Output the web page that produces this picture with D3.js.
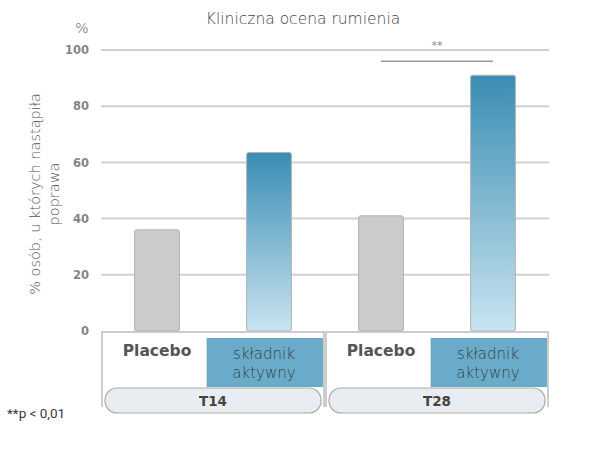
<!DOCTYPE html>
<html>
<head>
<meta charset="utf-8">
<script src="https://cdn.jsdelivr.net/npm/d3@7"></script>
<style>
  body { margin: 0; background: #fff; }
  svg { display: block; }
</style>
</head>
<body>
<div id="chart"></div>
<script>
// data
var groups = ['T14', 'T28'];
var series = ['Placebo', 'składnik aktywny'];
var values = {
  'T14': [36, 63.5],
  'T28': [41, 91]
};
var yTicks = [0, 20, 40, 60, 80, 100];

var width = 600, height = 458;
var lightFont = '"DejaVu Sans", sans-serif';

var svg = d3.select('#chart').append('svg')
    .attr('width', width)
    .attr('height', height);

var x0 = d3.scaleBand()
    .domain(groups)
    .range([101, 549])
    .padding(0);

var x1 = d3.scaleBand()
    .domain(series)
    .range([0, x0.bandwidth()])
    .paddingInner(0.6)
    .paddingOuter(0.3);

var y = d3.scaleLinear()
    .domain([0, 100])
    .range([331, 50]);

// gradient for active bars
var defs = svg.append('defs');
var grad = defs.append('linearGradient')
    .attr('id', 'activeGrad')
    .attr('x1', 0).attr('y1', 0)
    .attr('x2', 0).attr('y2', 1);
grad.append('stop').attr('offset', '0%').attr('stop-color', '#3a8db3');
grad.append('stop').attr('offset', '100%').attr('stop-color', '#c9e4f0');

// title
svg.append('text')
    .attr('x', 303)
    .attr('y', 24)
    .attr('text-anchor', 'middle')
    .style('font-family', lightFont)
    .style('font-weight', 200)
    .style('font-size', '15.5px')
    .style('fill', '#444')
    .text('Kliniczna ocena rumienia');

// % unit
svg.append('text')
    .attr('x', 82)
    .attr('y', 33)
    .attr('text-anchor', 'middle')
    .style('font-family', lightFont)
    .style('font-weight', 200)
    .style('font-size', '14px')
    .style('fill', '#555')
    .text('%');

// gridlines
svg.append('g')
    .selectAll('line')
    .data(yTicks.filter(function(d) { return d > 0; }))
    .enter().append('line')
    .attr('x1', 101)
    .attr('x2', 549)
    .attr('y1', function(d) { return y(d); })
    .attr('y2', function(d) { return y(d); })
    .style('stroke', '#d0d0d0')
    .style('stroke-width', 2);

// y axis tick labels
var yAxis = d3.axisLeft(y)
    .tickValues(yTicks)
    .tickSize(0)
    .tickPadding(0);

var yG = svg.append('g')
    .attr('transform', 'translate(89,0)')
    .call(yAxis);
yG.select('.domain').remove();
yG.selectAll('text')
    .style('font-family', '"DejaVu Sans", sans-serif')
    .style('font-weight', 'bold')
    .style('font-size', '11.5px')
    .style('fill', '#858585');

// y axis title
var yTitle = svg.append('text')
    .attr('transform', 'translate(40,194)rotate(-90)')
    .attr('text-anchor', 'middle')
    .style('font-family', lightFont)
    .style('font-weight', 200)
    .style('font-size', '14.5px')
    .style('fill', '#555');
yTitle.append('tspan').attr('x', 0).attr('y', 0).text('% osób, u których nastąpiła');
yTitle.append('tspan').attr('x', 0).attr('y', 19).text('poprawa');

// bars
var gBars = svg.append('g')
    .selectAll('g')
    .data(groups)
    .enter().append('g')
    .attr('transform', function(d) { return 'translate(' + x0(d) + ',0)'; });

gBars.selectAll('rect')
    .data(function(g) { return series.map(function(s, i) { return {s: s, v: values[g][i]}; }); })
    .enter().append('rect')
    .attr('x', function(d) { return x1(d.s); })
    .attr('width', x1.bandwidth())
    .attr('y', function(d) { return y(d.v); })
    .attr('height', function(d) { return y(0) - y(d.v); })
    .attr('rx', 2)
    .style('fill', function(d) { return d.s == 'Placebo' ? '#cbcbcb' : 'url(#activeGrad)'; })
    .style('stroke', '#b2b2b2')
    .style('stroke-width', 1);

// significance bracket on T28
var sx1 = x0('T28') + x1('Placebo') + x1.bandwidth() / 2;
var sx2 = x0('T28') + x1('składnik aktywny') + x1.bandwidth() / 2;
svg.append('line')
    .attr('x1', sx1).attr('x2', sx2)
    .attr('y1', y(96)).attr('y2', y(96))
    .style('stroke', '#999')
    .style('stroke-width', 1.5);
svg.append('text')
    .attr('x', (sx1 + sx2) / 2)
    .attr('y', y(100.3))
    .attr('text-anchor', 'middle')
    .style('font-family', lightFont)
    .style('font-size', '11px')
    .style('fill', '#888')
    .text('**');

// category boxes
var cat = svg.append('g')
    .selectAll('g')
    .data(groups)
    .enter().append('g')
    .attr('transform', function(d) { return 'translate(' + x0(d) + ',0)'; });

var bw = x0.bandwidth();

cat.append('path')
    .attr('d', 'M1,407V' + (y(0) + 1) + 'H' + (bw - 1) + 'V407')
    .style('fill', 'none')
    .style('stroke', '#bdbdbd')
    .style('stroke-width', 1.5);

cat.append('text')
    .attr('x', x1('Placebo') + x1.bandwidth() / 2)
    .attr('y', 356)
    .attr('text-anchor', 'middle')
    .style('font-family', '"DejaVu Sans", sans-serif')
    .style('font-weight', 'bold')
    .style('font-size', '15.5px')
    .style('fill', '#555')
    .text('Placebo');

cat.append('rect')
    .attr('x', x1('składnik aktywny') - 40)
    .attr('y', 338)
    .attr('width', bw - 2 - (x1('składnik aktywny') - 40))
    .attr('height', 49)
    .style('fill', '#69abc8');

var act = cat.append('text')
    .attr('text-anchor', 'middle')
    .style('font-family', lightFont)
    .style('font-weight', 200)
    .style('font-size', '15px')
    .style('fill', '#33434c');
act.append('tspan')
    .attr('x', x1('składnik aktywny') + x1.bandwidth() / 2 - 5)
    .attr('y', 359)
    .text('składnik');
act.append('tspan')
    .attr('x', x1('składnik aktywny') + x1.bandwidth() / 2 - 5)
    .attr('y', 378)
    .text('aktywny');

cat.append('rect')
    .attr('x', 4)
    .attr('y', 388)
    .attr('width', bw - 8)
    .attr('height', 25)
    .attr('rx', 12)
    .style('fill', '#e9edf1')
    .style('stroke', '#aaa')
    .style('stroke-width', 1.2);

cat.append('text')
    .attr('x', bw / 2)
    .attr('y', 406)
    .attr('text-anchor', 'middle')
    .style('font-family', '"DejaVu Sans", sans-serif')
    .style('font-weight', 'bold')
    .style('font-size', '13.5px')
    .style('fill', '#444')
    .text(function(d) { return d; });

// footnote
svg.append('text')
    .attr('x', 7)
    .attr('y', 418)
    .style('font-family', 'Roboto, sans-serif')
    .style('font-weight', 400)
    .style('font-size', '13.5px')
    .style('fill', '#3a3a3a')
    .text('**p < 0,01');
</script>
</body>
</html>
